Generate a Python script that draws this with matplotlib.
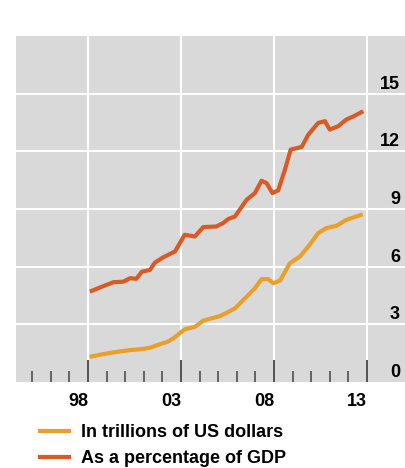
import numpy as np
import matplotlib.pyplot as plt
import matplotlib.transforms as mtransforms

plt.rcParams['font.family'] = ['Liberation Sans', 'DejaVu Sans']
plt.rcParams['font.weight'] = 'bold'

# data
years_usd = [1998.1, 1998.7, 1999.36, 2000.26, 2000.8, 2001.33, 2001.87, 2002.3, 2002.59,
             2003.2, 2003.75, 2004.2, 2004.6, 2005.1, 2005.5, 2005.9, 2006.53, 2006.98,
             2007.33, 2007.7, 2007.96, 2008.32, 2008.86, 2009.4, 2009.85, 2010.38,
             2010.83, 2011.37, 2011.9, 2012.4, 2012.77]
usd_trn = [1.31, 1.43, 1.54, 1.66, 1.70, 1.78, 1.97, 2.10, 2.27,
           2.74, 2.87, 3.19, 3.30, 3.43, 3.62, 3.83, 4.44, 4.88,
           5.35, 5.35, 5.14, 5.27, 6.18, 6.53, 7.05, 7.75,
           8.01, 8.13, 8.44, 8.60, 8.72]

years_gdp = [1998.1, 1998.6, 1999.36, 1999.9, 2000.26, 2000.6, 2000.9, 2001.33, 2001.6,
             2002.05, 2002.68, 2003.2, 2003.75, 2004.2, 2004.9, 2005.27, 2005.54, 2005.9,
             2006.53, 2006.98, 2007.33, 2007.6, 2007.92, 2008.23, 2008.59, 2008.9,
             2009.49, 2009.85, 2010.38, 2010.74, 2011.0, 2011.46, 2011.9, 2012.3, 2012.8]
gdp_pct = [4.70, 4.90, 5.19, 5.22, 5.40, 5.37, 5.74, 5.83, 6.21,
           6.49, 6.79, 7.66, 7.57, 8.06, 8.09, 8.27, 8.48, 8.61,
           9.48, 9.83, 10.47, 10.35, 9.83, 9.97, 11.05, 12.09,
           12.23, 12.87, 13.48, 13.57, 13.13, 13.31, 13.66, 13.83, 14.09]

yticks = [0, 3, 6, 9, 12, 15]
xmajor = [1998, 2003, 2008, 2013]
xlabels = ['98', '03', '08', '13']

fig = plt.figure(figsize=(4.06, 4.68), dpi=100)
ax = fig.add_axes([16/406, 1 - 382/468, 390/406, 346/468])
ax.set_facecolor('#d9d9d9')

ax.plot(years_usd, usd_trn, color='#e9a02a', lw=3, label='In trillions of US dollars',
        solid_capstyle='butt')
ax.plot(years_gdp, gdp_pct, color='#d95a22', lw=3, label='As a percentage of GDP',
        solid_capstyle='butt')

ax.set_xlim(1994.13, 2015.1)
ax.set_ylim(0, 18)

# grid
for v in yticks[1:]:
    ax.axhline(v, color='white', lw=1.5, zorder=0.5)
for v in xmajor:
    ax.axvline(v, color='white', lw=1.5, zorder=0.5)

for s in ax.spines.values():
    s.set_visible(False)

ax.set_yticks([])
ax.set_xticks(xmajor)
ax.set_xticks(range(1995, 2013), minor=True)
ax.tick_params(axis='x', which='major', direction='in', length=16, width=1.3,
               color='#444444', pad=8, labelsize=13)
ax.tick_params(axis='x', which='minor', direction='in', length=8, width=1.1,
               color='#444444')
ax.set_xticklabels(xlabels)
off = mtransforms.ScaledTranslation(-10/100, 0, fig.dpi_scale_trans)
for lab in ax.get_xticklabels():
    lab.set_transform(lab.get_transform() + off)

# y labels inside plot, right side
trans = mtransforms.blended_transform_factory(ax.transAxes, ax.transData)
yoff = mtransforms.ScaledTranslation(0, 5/100, fig.dpi_scale_trans)
for v in yticks:
    ax.text(384/390, v, str(v), transform=trans + yoff, ha='right', va='baseline',
            fontsize=13)

fig.legend(loc='upper left', bbox_to_anchor=(38/406, 1 - 424/468), frameon=False,
           fontsize=13, handlelength=1.85, handletextpad=0.55, labelspacing=0.5,
           borderaxespad=0, borderpad=0)

fig.savefig('out.png', dpi=100)
